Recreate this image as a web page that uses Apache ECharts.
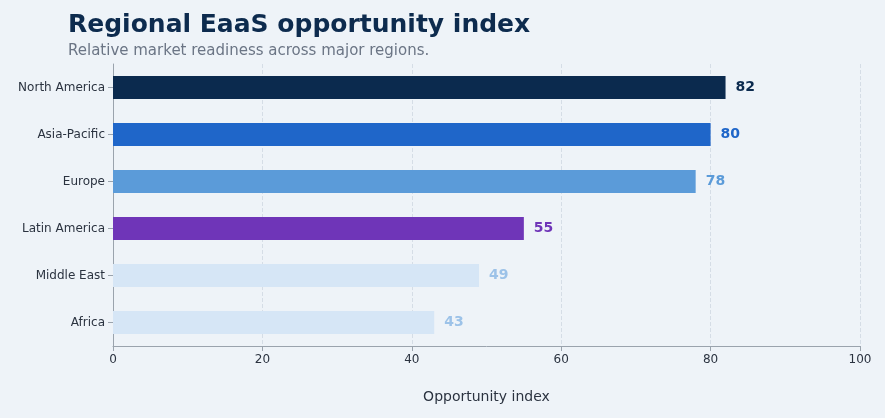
<!DOCTYPE html>
<html lang="en">
<head>
<meta charset="UTF-8">
<script src="https://cdn.jsdelivr.net/npm/echarts@6/dist/echarts.min.js"></script>
<style>
  html, body { margin: 0; padding: 0; background: #eef3f8; }
  #chart { width: 885px; height: 418px; }
</style>
</head>
<body>
<div id="chart"></div>
<script>
  // data, top to bottom
  const regions = ['North America', 'Asia-Pacific', 'Europe', 'Latin America', 'Middle East', 'Africa']
  const scores = [82, 80, 78, 55, 49, 43]
  const barColors = ['#0b2a4e', '#1f66c9', '#5b9bd9', '#6f35b8', '#d6e6f6', '#d6e6f6']
  const labelColors = ['#0b2a4e', '#1f66c9', '#5b9bd9', '#6f35b8', '#9cc2e8', '#9cc2e8']
  const xTicks = [0, 20, 40, 60, 80, 100]

  const font = 'DejaVu Sans'
  const chart = echarts.init(document.getElementById('chart'))
  chart.setOption({
    backgroundColor: '#eef3f8',
    textStyle: { fontFamily: font },
    title: {
      text: 'Regional EaaS opportunity index',
      subtext: 'Relative market readiness across major regions.',
      left: 63, top: 8, itemGap: 6,
      textStyle: { fontSize: 25, fontWeight: 'bold', color: '#0d2b4e', fontFamily: font },
      subtextStyle: { fontSize: 15, color: '#6b7585', fontFamily: font }
    },
    grid: { left: 113, right: 25, top: 64, bottom: 72 },
    xAxis: {
      type: 'value', min: xTicks[0], max: xTicks[xTicks.length - 1], interval: 20,
      name: 'Opportunity index', nameLocation: 'middle', nameGap: 44,
      nameTextStyle: { fontSize: 14, color: '#2b3340' },
      axisLine: { show: true, lineStyle: { color: '#9aa3ad' } },
      axisTick: { show: true, lineStyle: { color: '#9aa3ad' } },
      axisLabel: { color: '#2b3340', fontSize: 12 },
      splitLine: { show: true, lineStyle: { type: 'dashed', color: '#d5dde6' } }
    },
    yAxis: {
      type: 'category', inverse: true, data: regions,
      axisLine: { show: true, lineStyle: { color: '#9aa3ad' } },
      axisTick: { show: true, alignWithLabel: true, lineStyle: { color: '#9aa3ad' } },
      axisLabel: { color: '#2b3340', fontSize: 12 }
    },
    series: [{
      type: 'bar', barWidth: 23,
      data: scores.map((v, i) => ({
        value: v,
        itemStyle: { color: barColors[i] },
        label: { color: labelColors[i] }
      })),
      label: { show: true, position: 'right', distance: 10, fontSize: 14, fontWeight: 'bold' }
    }]
  })
</script>
</body>
</html>
